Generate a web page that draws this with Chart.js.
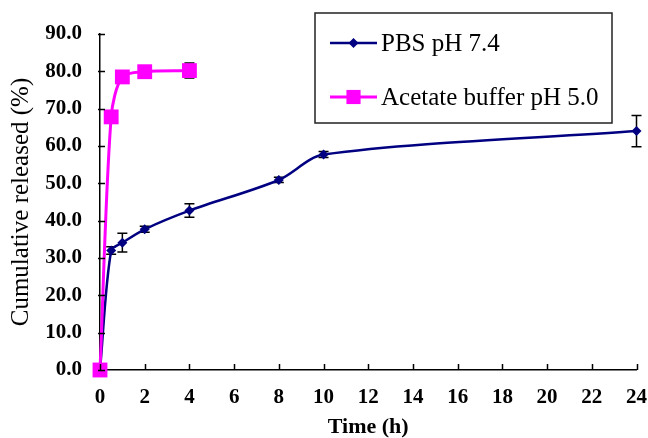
<!DOCTYPE html>
<html lang="en">
<head>
    <meta charset="UTF-8">
    <title>Cumulative release</title>
    <script src="https://cdn.jsdelivr.net/npm/chart.js"></script>
    <style>
        body { margin: 0; background: #fff; }
        .wrap { width: 648px; height: 438px; }
    </style>
</head>
<body>
    <div class="wrap">
        <canvas id="release-chart" width="648" height="438"></canvas>
    </div>

    <script>
        // Data
        const timePBS = [0, 0.5, 1, 2, 4, 8, 10, 24];
        const pbsValues = [0, 32.0, 34.1, 37.7, 42.7, 50.9, 57.7, 64.0];
        const pbsErrors = [0, 1.0, 2.5, 0.8, 1.8, 0.7, 0.8, 4.2];

        const timeAcetate = [0, 0.5, 1, 2, 4];
        const acetateValues = [0, 67.8, 78.5, 79.9, 80.2];
        const acetateErrors = [0, 1.0, 1.0, 1.0, 2.0];

        const seriesLabels = ['PBS pH 7.4', 'Acetate buffer pH 5.0'];
        const xTitle = 'Time (h)';
        const yTitle = 'Cumulative released (%)';

        const NAVY = '#000080';
        const MAGENTA = '#ff00ff';
        const SERIF = "'Liberation Serif', 'Times New Roman', serif";

        const toPoints = (xs, ys) => xs.map((x, i) => ({ x: x, y: ys[i] }));

        // error bars, drawn under the markers
        const errorBars = {
            id: 'errorBars',
            beforeDatasetsDraw(chart) {
                const ctx = chart.ctx;
                const xs = chart.scales.x, ys = chart.scales.y;
                const sets = [[timePBS, pbsValues, pbsErrors], [timeAcetate, acetateValues, acetateErrors]];
                ctx.save();
                ctx.strokeStyle = '#000';
                ctx.lineWidth = 1.5;
                sets.forEach(([t, v, e]) => {
                    t.forEach((ti, i) => {
                        if (!e[i]) return;
                        const px = xs.getPixelForValue(ti);
                        const top = ys.getPixelForValue(v[i] + e[i]);
                        const bot = ys.getPixelForValue(v[i] - e[i]);
                        ctx.beginPath();
                        ctx.moveTo(px, top); ctx.lineTo(px, bot);
                        ctx.moveTo(px - 5, top); ctx.lineTo(px + 5, top);
                        ctx.moveTo(px - 5, bot); ctx.lineTo(px + 5, bot);
                        ctx.stroke();
                    });
                });
                ctx.restore();
            }
        };

        // inward tick marks on both axes
        const innerTicks = {
            id: 'innerTicks',
            afterDraw(chart) {
                const ctx = chart.ctx;
                const area = chart.chartArea;
                ctx.save();
                ctx.strokeStyle = '#000';
                ctx.lineWidth = 1.5;
                ctx.beginPath();
                chart.scales.x.ticks.forEach(tk => {
                    const px = Math.round(chart.scales.x.getPixelForValue(tk.value)) + 0.5;
                    ctx.moveTo(px, area.bottom); ctx.lineTo(px, area.bottom - 6);
                });
                chart.scales.y.ticks.forEach(tk => {
                    const py = Math.round(chart.scales.y.getPixelForValue(tk.value)) + 0.5;
                    ctx.moveTo(area.left - 2, py); ctx.lineTo(area.left + 5, py);
                });
                ctx.stroke();
                ctx.restore();
            }
        };

        // boxed legend in the upper right
        const boxLegend = {
            id: 'boxLegend',
            afterDraw(chart) {
                const ctx = chart.ctx;
                const bx = 315, by = 13, bw = 297, bh = 110;
                ctx.save();
                ctx.strokeStyle = '#222';
                ctx.lineWidth = 1.5;
                ctx.strokeRect(bx, by, bw, bh);
                ctx.font = '25px ' + SERIF;
                ctx.textBaseline = 'middle';
                ctx.fillStyle = '#000';
                const rows = [
                    { y: by + 30, color: NAVY, style: 'rectRot', r: 5, w: 2.5 },
                    { y: by + 84, color: MAGENTA, style: 'rect', r: 10, w: 3 }
                ];
                rows.forEach((row, i) => {
                    ctx.strokeStyle = row.color;
                    ctx.lineWidth = row.w;
                    ctx.beginPath();
                    ctx.moveTo(bx + 15, row.y); ctx.lineTo(bx + 62, row.y);
                    ctx.stroke();
                    ctx.fillStyle = row.color;
                    Chart.helpers.drawPoint(ctx, { pointStyle: row.style, radius: row.r, borderWidth: 0 }, bx + 38.5, row.y);
                    ctx.fillStyle = '#000';
                    ctx.fillText(seriesLabels[i], bx + 66, row.y + 1);
                });
                ctx.restore();
            }
        };

        const ctx = document.getElementById('release-chart').getContext('2d');
        const releaseChart = new Chart(ctx, {
            type: 'line',
            data: {
                datasets: [{
                    label: seriesLabels[0],
                    data: toPoints(timePBS, pbsValues),
                    borderColor: NAVY,
                    backgroundColor: NAVY,
                    borderWidth: 2.5,
                    pointStyle: 'rectRot',
                    pointRadius: 5,
                    pointBorderWidth: 0,
                    tension: 0.3,
                    order: 1
                }, {
                    label: seriesLabels[1],
                    data: toPoints(timeAcetate, acetateValues),
                    borderColor: MAGENTA,
                    backgroundColor: MAGENTA,
                    borderWidth: 3,
                    pointStyle: 'rect',
                    pointRadius: 10.5,
                    pointBorderWidth: 0,
                    tension: 0.3,
                    order: 0
                }]
            },
            options: {
                responsive: false,
                animation: false,
                clip: false,
                layout: { padding: { left: 0, right: 11.5, top: 34, bottom: 0 } },
                scales: {
                    x: {
                        type: 'linear',
                        min: 0,
                        max: 24,
                        afterFit(s) { s.height = 68; s.paddingLeft = 0; s.paddingRight = 0; },
                        grid: { display: false },
                        border: { display: true, color: '#000', width: 1.5 },
                        ticks: {
                            stepSize: 2,
                            padding: 7,
                            color: '#000',
                            font: { family: SERIF, size: 21, weight: 'bold' }
                        },
                        title: {
                            display: true,
                            text: xTitle,
                            color: '#000',
                            padding: { top: 0, bottom: 0 },
                            font: { family: SERIF, size: 22, weight: 'bold', lineHeight: 1 }
                        }
                    },
                    y: {
                        min: 0,
                        max: 90,
                        afterFit(s) { s.width = 100; s.paddingTop = 0; s.paddingBottom = 0; },
                        grid: { display: false },
                        border: { display: true, color: '#000', width: 1.5 },
                        ticks: {
                            stepSize: 10,
                            padding: 10,
                            color: '#000',
                            callback: v => v.toFixed(1),
                            font: { family: SERIF, size: 21, weight: 'bold' }
                        },
                        title: {
                            display: true,
                            text: yTitle,
                            color: '#000',
                            padding: { top: 9, bottom: 0 },
                            font: { family: SERIF, size: 25, lineHeight: 1 }
                        }
                    }
                },
                plugins: {
                    legend: { display: false },
                    tooltip: { enabled: false }
                }
            },
            plugins: [errorBars, innerTicks, boxLegend]
        });
    </script>
</body>
</html>
